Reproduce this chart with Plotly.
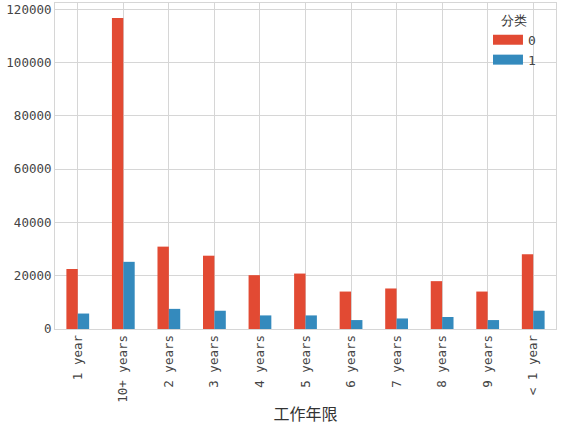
#grouped bar chart of counts by work years, split by class
import plotly.graph_objects as go

categories = ['1 year', '10+ years', '2 years', '3 years', '4 years', '5 years',
              '6 years', '7 years', '8 years', '9 years', '< 1 year']
counts_0 = [22500, 116700, 30900, 27500, 20200, 20800, 14050, 15200, 17950, 14050, 28000]
counts_1 = [5800, 25200, 7550, 6850, 5100, 5100, 3350, 3950, 4500, 3350, 6850]
class_names = ['0', '1']

red = '#E24A33'
blue = '#348ABD'
grid = '#d6d6d6'
tick_font = dict(family='DejaVu Sans Mono, Noto Sans CJK SC', size=12.5, color='#444444')

fig = go.Figure()

#bars, legend is drawn by the helper traces below
for name, vals, col in zip(class_names, [counts_0, counts_1], [red, blue]):
    fig.add_trace(go.Bar(x=categories, y=vals, name=name, marker=dict(color=col, line=dict(width=0)),
                         showlegend=False))

#wide rectangular legend patches like matplotlib
for name, col in zip(class_names, [red, blue]):
    fig.add_trace(go.Scatter(x=[None], y=[None], mode='lines', name=name,
                             line=dict(color=col, width=10)))

fig.update_layout(
    width=562, height=425,
    margin=dict(l=55, r=6, t=3, b=96),
    paper_bgcolor='white', plot_bgcolor='white',
    barmode='group', bargap=0.5, bargroupgap=0,
    font=dict(family='Noto Sans CJK SC', color='#333333'),
    legend=dict(title=dict(text='分类', side='top center', font=dict(size=13, color='#333333')),
                x=0.97, xanchor='right', y=0.985, yanchor='top',
                bgcolor='rgba(0,0,0,0)', itemwidth=30, tracegroupgap=0,
                font=dict(family='DejaVu Sans Mono', size=13, color='#444444')),
)
fig.update_xaxes(type='category', tickangle=-90, tickfont=tick_font,
                 showgrid=True, gridcolor=grid, gridwidth=1,
                 showline=True, linecolor=grid, mirror=True, ticks='',
                 title=dict(text='工作年限', font=dict(family='Noto Sans CJK SC', size=16, color='#333333')),
                 automargin=False)
fig.update_yaxes(range=[0, 122300], tickformat='d', dtick=20000, tickfont=tick_font,
                 showgrid=True, gridcolor=grid, gridwidth=1, zeroline=False,
                 showline=True, linecolor=grid, mirror=True, ticks='', automargin=False)

fig.write_html("out.html", config={'displayModeBar': False},
               post_script="document.body.style.margin='0';")
